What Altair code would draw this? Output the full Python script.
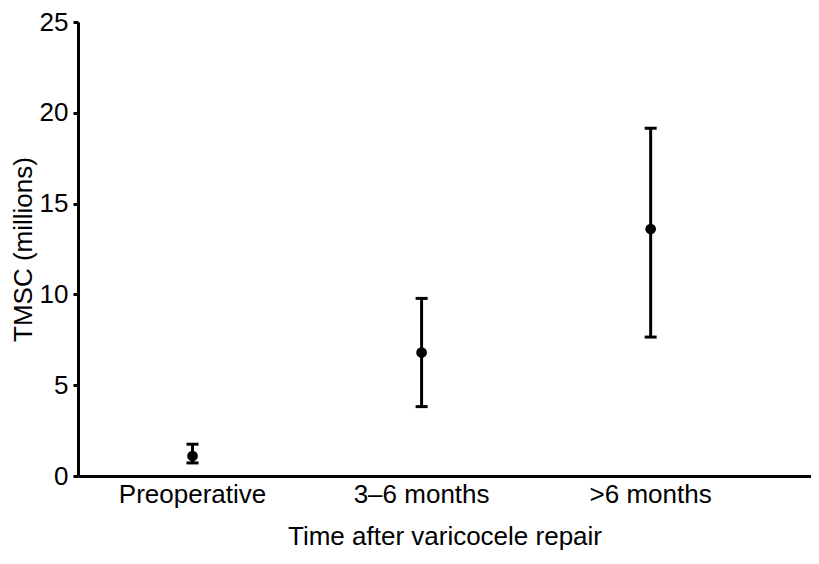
import altair as alt
import pandas as pd

categories = ["Preoperative", "3–6 months", ">6 months"]
means = [1.1, 6.8, 13.6]
lows = [0.72, 3.82, 7.65]
highs = [1.75, 9.78, 19.15]

df = pd.DataFrame({"cat": categories, "mean": means, "low": lows, "high": highs})

FONT = "Liberation Sans"
FS = 26

x = alt.X("cat:N", sort=categories, title="Time after varicocele repair",
          scale=alt.Scale(type="band", paddingInner=0, paddingOuter=0.1, align=0),
          axis=alt.Axis(labelAngle=0, ticks=False, domainWidth=3, domainColor="black",
                        labelFontSize=FS, titleFontSize=FS, labelFont=FONT, titleFont=FONT,
                        labelColor="black", titleColor="black", titleFontWeight="normal",
                        labelPadding=5, titlePadding=16, grid=False))

yscale = alt.Scale(domain=[0, 25], nice=False)
yaxis = alt.Axis(values=[0, 5, 10, 15, 20, 25], tickSize=5, tickWidth=3, tickColor="black",
                 domainWidth=3, domainColor="black", labelFontSize=FS, titleFontSize=FS,
                 labelFont=FONT, titleFont=FONT, labelColor="black", titleColor="black",
                 titleFontWeight="normal", labelPadding=5, titlePadding=3, grid=False)

base = alt.Chart(df)

rule = base.mark_rule(color="black", strokeWidth=3).encode(
    x=x,
    y=alt.Y("low:Q", scale=yscale, axis=yaxis, title="TMSC (millions)"),
    y2="high:Q",
)
cap_lo = base.mark_tick(color="black", size=12, thickness=3, orient="horizontal", opacity=1).encode(
    x=x, y=alt.Y("low:Q", scale=yscale))
cap_hi = base.mark_tick(color="black", size=12, thickness=3, orient="horizontal", opacity=1).encode(
    x=x, y=alt.Y("high:Q", scale=yscale))
pts = base.mark_point(filled=True, color="black", size=115, opacity=1).encode(
    x=x, y=alt.Y("mean:Q", scale=yscale))

chart = alt.layer(rule, cap_lo, cap_hi, pts).properties(
    width=733, height=454,
    autosize=alt.AutoSizeParams(type="none"),
    padding={"left": 70, "top": 14, "right": 0, "bottom": 77},
).configure(background="white").configure_view(stroke=None)

chart.save("out.html", embed_options={"renderer": "svg", "actions": False})
